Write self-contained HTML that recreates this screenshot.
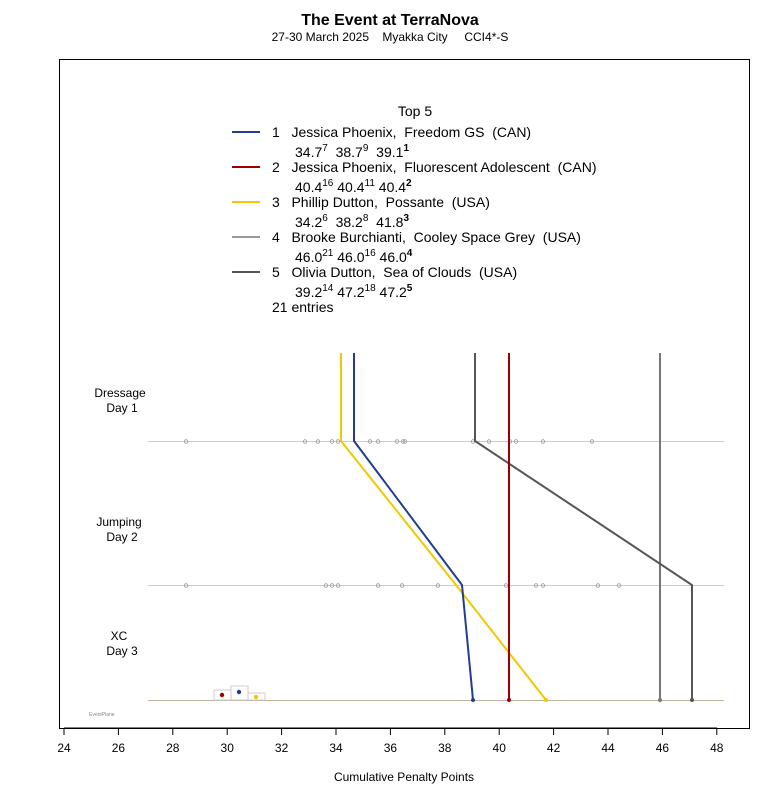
<!DOCTYPE html>
<html><head><meta charset="utf-8"><style>body{margin:0;background:#fff}svg{display:block}text{font-family:"Liberation Sans",sans-serif;white-space:pre}</style></head><body>
<svg width="780" height="800" xmlns="http://www.w3.org/2000/svg" xml:space="preserve">
<text x="390" y="25" text-anchor="middle" font-size="16" font-weight="bold">The Event at TerraNova</text>
<text x="390" y="41" text-anchor="middle" font-size="12">27-30 March 2025    Myakka City     CCI4*-S</text>
<rect x="59.5" y="59.5" width="690" height="669" fill="none" stroke="#000"/>
<g font-size="14">
<text x="415" y="116" text-anchor="middle">Top 5</text>
<line x1="232" y1="132" x2="260" y2="132" stroke="#223d91" stroke-width="2"/>
<text x="272" y="137">1   Jessica Phoenix,  Freedom GS  (CAN)</text>
<text x="295" y="157">34.7<tspan font-size="10" dy="-6">7</tspan><tspan dy="6">  38.7</tspan><tspan font-size="10" dy="-6">9</tspan><tspan dy="6">  39.1</tspan><tspan font-size="10" dy="-6" font-weight="bold">1</tspan></text>
<line x1="232" y1="167" x2="260" y2="167" stroke="#9a0000" stroke-width="2"/>
<text x="272" y="172">2   Jessica Phoenix,  Fluorescent Adolescent  (CAN)</text>
<text x="295" y="192">40.4<tspan font-size="10" dy="-6">16</tspan><tspan dy="6"> 40.4</tspan><tspan font-size="10" dy="-6">11</tspan><tspan dy="6"> 40.4</tspan><tspan font-size="10" dy="-6" font-weight="bold">2</tspan></text>
<line x1="232" y1="202" x2="260" y2="202" stroke="#f2c800" stroke-width="2"/>
<text x="272" y="207">3   Phillip Dutton,  Possante  (USA)</text>
<text x="295" y="227">34.2<tspan font-size="10" dy="-6">6</tspan><tspan dy="6">  38.2</tspan><tspan font-size="10" dy="-6">8</tspan><tspan dy="6">  41.8</tspan><tspan font-size="10" dy="-6" font-weight="bold">3</tspan></text>
<line x1="232" y1="237" x2="260" y2="237" stroke="#999" stroke-width="2"/>
<text x="272" y="242">4   Brooke Burchianti,  Cooley Space Grey  (USA)</text>
<text x="295" y="262">46.0<tspan font-size="10" dy="-6">21</tspan><tspan dy="6"> 46.0</tspan><tspan font-size="10" dy="-6">16</tspan><tspan dy="6"> 46.0</tspan><tspan font-size="10" dy="-6" font-weight="bold">4</tspan></text>
<line x1="232" y1="272" x2="260" y2="272" stroke="#555" stroke-width="2"/>
<text x="272" y="277">5   Olivia Dutton,  Sea of Clouds  (USA)</text>
<text x="295" y="297">39.2<tspan font-size="10" dy="-6">14</tspan><tspan dy="6"> 47.2</tspan><tspan font-size="10" dy="-6">18</tspan><tspan dy="6"> 47.2</tspan><tspan font-size="10" dy="-6" font-weight="bold">5</tspan></text>
<text x="272" y="312">21 entries</text>
</g>
<g font-size="12" text-anchor="middle">
<text x="120" y="397">Dressage</text><text x="122" y="412">Day 1</text>
<text x="119" y="526">Jumping</text><text x="122" y="541">Day 2</text>
<text x="119" y="640">XC</text><text x="122" y="655">Day 3</text>
</g>
<g stroke="#ccc"><line x1="148" y1="441.5" x2="724" y2="441.5"/><line x1="148" y1="585.5" x2="724" y2="585.5"/></g>
<line x1="148" y1="700.5" x2="724" y2="700.5" stroke="#bdb39a"/>
<g fill="none" stroke="#999" stroke-width="0.8">
<circle cx="186" cy="441.5" r="1.8"/><circle cx="305" cy="441.5" r="1.8"/><circle cx="318" cy="441.5" r="1.8"/><circle cx="332" cy="441.5" r="1.8"/><circle cx="338" cy="441.5" r="1.8"/><circle cx="370" cy="441.5" r="1.8"/><circle cx="378" cy="441.5" r="1.8"/><circle cx="397" cy="441.5" r="1.8"/><circle cx="403" cy="441.5" r="1.8"/><circle cx="405" cy="441.5" r="1.8"/><circle cx="473" cy="441.5" r="1.8"/><circle cx="489" cy="441.5" r="1.8"/><circle cx="510" cy="441.5" r="1.8"/><circle cx="516" cy="441.5" r="1.8"/><circle cx="543" cy="441.5" r="1.8"/><circle cx="592" cy="441.5" r="1.8"/>
<circle cx="186" cy="585.5" r="1.8"/><circle cx="326" cy="585.5" r="1.8"/><circle cx="332" cy="585.5" r="1.8"/><circle cx="338" cy="585.5" r="1.8"/><circle cx="378" cy="585.5" r="1.8"/><circle cx="402" cy="585.5" r="1.8"/><circle cx="438" cy="585.5" r="1.8"/><circle cx="506" cy="585.5" r="1.8"/><circle cx="536" cy="585.5" r="1.8"/><circle cx="543" cy="585.5" r="1.8"/><circle cx="598" cy="585.5" r="1.8"/><circle cx="619" cy="585.5" r="1.8"/>
</g>
<g fill="none" stroke-width="2">
<polyline points="660,353 660,700" stroke="#777"/>
<polyline points="475,353 475,441 692,585 692,700" stroke="#555"/>
<polyline points="341,353 341,441 456,585 546,700" stroke="#f2c800"/>
<polyline points="354,353 354,441 462,585 473,700" stroke="#223d91"/>
<polyline points="509,353 509,441 509,585 509,700" stroke="#9a0000"/>
</g>
<g fill="#555"><circle cx="473" cy="700" r="2" fill="#223d91"/><circle cx="509" cy="700" r="2" fill="#9a0000"/><circle cx="546" cy="700" r="2" fill="#f2c800"/><circle cx="660" cy="700" r="2" fill="#777"/><circle cx="692" cy="700" r="2"/></g>
<g fill="none" stroke="#ccc"><rect x="214" y="690" width="17" height="10"/><rect x="231" y="686" width="17" height="14"/><rect x="248" y="693" width="17" height="7"/></g>
<circle cx="222" cy="695" r="2.2" fill="#9a0000"/><circle cx="239" cy="692" r="2.2" fill="#223d91"/><circle cx="256" cy="697" r="2.2" fill="#f2c800"/>
<text x="89" y="716" font-size="5" fill="#888">EventPlane</text>
<g stroke="#000"><line x1="64" y1="728" x2="717" y2="728"/>
<line x1="64" y1="728" x2="64" y2="735"/><line x1="118.4" y1="728" x2="118.4" y2="735"/><line x1="172.8" y1="728" x2="172.8" y2="735"/><line x1="227.2" y1="728" x2="227.2" y2="735"/><line x1="281.6" y1="728" x2="281.6" y2="735"/><line x1="336" y1="728" x2="336" y2="735"/><line x1="390.4" y1="728" x2="390.4" y2="735"/><line x1="444.8" y1="728" x2="444.8" y2="735"/><line x1="499.2" y1="728" x2="499.2" y2="735"/><line x1="553.6" y1="728" x2="553.6" y2="735"/><line x1="608" y1="728" x2="608" y2="735"/><line x1="662.4" y1="728" x2="662.4" y2="735"/><line x1="716.8" y1="728" x2="716.8" y2="735"/></g>
<g font-size="12" text-anchor="middle">
<text x="64" y="752">24</text><text x="118.4" y="752">26</text><text x="172.8" y="752">28</text><text x="227.2" y="752">30</text><text x="281.6" y="752">32</text><text x="336" y="752">34</text><text x="390.4" y="752">36</text><text x="444.8" y="752">38</text><text x="499.2" y="752">40</text><text x="553.6" y="752">42</text><text x="608" y="752">44</text><text x="662.4" y="752">46</text><text x="716.8" y="752">48</text>
<text x="404" y="781">Cumulative Penalty Points</text>
</g>
</svg>
</body></html>
